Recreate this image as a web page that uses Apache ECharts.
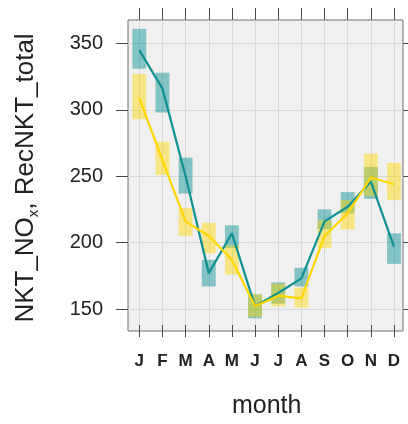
<!DOCTYPE html>
<html>
<head>
<meta charset="utf-8">
<script src="https://cdn.jsdelivr.net/npm/echarts@6/dist/echarts.min.js"></script>
<style>
  html, body { margin: 0; padding: 0; background: #ffffff; }
  #chart { width: 408px; height: 424px; }
</style>
</head>
<body>
<div id="chart"></div>
<script>
// Monthly means with confidence bands for two NOx series
const months = ['J', 'F', 'M', 'A', 'M', 'J', 'J', 'A', 'S', 'O', 'N', 'D'];
const monthIndex = [1, 2, 3, 4, 5, 6, 7, 8, 9, 10, 11, 12];

const nktNox     = [345, 316, 250, 177, 207, 152, 162, 173, 216, 227, 246, 197];
const nktNoxLow  = [331, 298, 237, 167, 196, 143, 154, 167, 210, 222, 233, 184];
const nktNoxHigh = [361, 328, 264, 187, 213, 161, 170, 181, 225, 238, 257, 207];

const recTotal     = [309, 262, 216, 205, 187, 152, 160, 158, 205, 222, 249, 244];
const recTotalLow  = [293, 251, 205, 192, 176, 144, 152, 151, 196, 210, 235, 232];
const recTotalHigh = [327, 276, 226, 215, 198, 161, 169, 166, 217, 232, 267, 260];

const yTicks = { min: 150, max: 350, step: 50 };

const FONT = '"Liberation Sans", Arial, Helvetica, sans-serif';
const TEAL = '#0f9191';
const GOLD = '#ffd700';

function bandData(lo, hi) {
  return monthIndex.map((m, i) => [m, lo[i], hi[i]]);
}
function lineData(v) {
  return monthIndex.map((m, i) => [m, v[i]]);
}

function bandRenderer(fill) {
  return function (params, api) {
    const x = api.value(0);
    const p1 = api.coord([x - 0.3, api.value(2)]);
    const p2 = api.coord([x + 0.3, api.value(1)]);
    return {
      type: 'rect',
      shape: { x: p1[0], y: p1[1], width: p2[0] - p1[0], height: p2[1] - p1[1] },
      style: { fill: fill }
    };
  };
}

const chart = echarts.init(document.getElementById('chart'), null, { renderer: 'canvas' });

const tickStyle = { show: true, length: 12, inside: false, lineStyle: { color: '#4a4a4a', width: 1 } };
const gridLine = { show: true, lineStyle: { color: '#d8d8d8', width: 1 } };

chart.setOption({
  animation: false,
  backgroundColor: '#ffffff',
  grid: [
    // panel holding the data
    { left: 128, right: 5, top: 20, bottom: 93, show: true, z: -1,
      backgroundColor: '#f0f0f0', borderColor: '#6e6e6e', borderWidth: 1 },
    // month ticks, labels and vertical grid lines
    { left: 139.3, right: 14, top: 20, bottom: 93 },
    // value ticks, labels and horizontal grid lines
    { left: 128, right: 5, top: 43.5, bottom: 115 }
  ],
  xAxis: [
    { gridIndex: 0, type: 'value', min: 0.512, max: 12.389, show: false },
    { gridIndex: 1, type: 'category', data: months, boundaryGap: false, position: 'bottom',
      axisLine: { show: false }, axisTick: tickStyle, splitLine: gridLine,
      axisLabel: { show: true, margin: 28, color: '#222', fontSize: 17, fontWeight: 'bold',
                   fontFamily: FONT, interval: 0 },
      name: 'month', nameLocation: 'middle', nameGap: 69,
      nameTextStyle: { fontSize: 25, color: '#222', fontFamily: FONT } },
    { gridIndex: 1, type: 'category', data: months, boundaryGap: false, position: 'top',
      axisLine: { show: false }, axisTick: tickStyle, axisLabel: { show: false }, splitLine: { show: false } },
    { gridIndex: 2, type: 'value', show: false }
  ],
  yAxis: [
    { gridIndex: 0, type: 'value', min: 133.4, max: 367.7, show: false },
    { gridIndex: 1, type: 'value', show: false },
    { gridIndex: 2, type: 'value', min: yTicks.min, max: yTicks.max, interval: yTicks.step, position: 'left',
      axisLine: { show: false }, axisTick: tickStyle, splitLine: gridLine,
      axisLabel: { margin: 25, color: '#222', fontSize: 20, fontFamily: FONT } },
    { gridIndex: 2, type: 'value', min: yTicks.min, max: yTicks.max, interval: yTicks.step, position: 'right',
      axisLine: { show: false }, axisTick: tickStyle, axisLabel: { show: false }, splitLine: { show: false } }
  ],
  graphic: [{
    type: 'text',
    x: 26, y: 178,
    rotation: Math.PI / 2,
    style: {
      text: '{a|NKT_NO}{s|x}{a|, RecNKT_total}',
      align: 'center',
      verticalAlign: 'middle',
      fill: '#222',
      rich: {
        a: { fontSize: 26, fontFamily: FONT, lineHeight: 30, fill: '#222' },
        s: { fontSize: 15, fontFamily: FONT, lineHeight: 12, verticalAlign: 'bottom', fill: '#222' }
      }
    }
  }],
  series: [
    { type: 'custom', xAxisIndex: 0, yAxisIndex: 0, renderItem: bandRenderer('rgba(0,139,139,0.45)'),
      data: bandData(nktNoxLow, nktNoxHigh), z: 2 },
    { type: 'custom', xAxisIndex: 0, yAxisIndex: 0, renderItem: bandRenderer('rgba(255,215,0,0.45)'),
      data: bandData(recTotalLow, recTotalHigh), z: 2 },
    { type: 'line', xAxisIndex: 0, yAxisIndex: 0, data: lineData(nktNox), showSymbol: false,
      lineStyle: { color: TEAL, width: 2.2 }, z: 3 },
    { type: 'line', xAxisIndex: 0, yAxisIndex: 0, data: lineData(recTotal), showSymbol: false,
      lineStyle: { color: GOLD, width: 2.2 }, z: 4 }
  ]
});
</script>
</body>
</html>
